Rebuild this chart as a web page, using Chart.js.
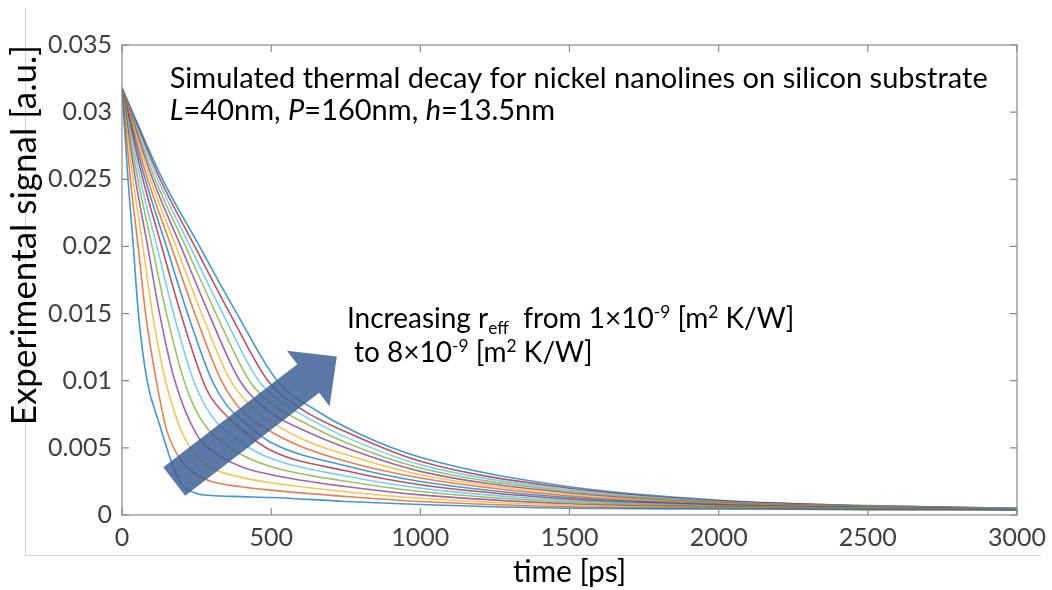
<!DOCTYPE html>
<html>
<head>
<meta charset="utf-8">
<script src="https://cdn.jsdelivr.net/npm/chart.js@4.4.0/dist/chart.umd.min.js"></script>
<style>
  html, body { margin: 0; padding: 0; background: #fff; }
  #wrap { position: relative; width: 1052px; height: 590px; }
  #frame { position: absolute; left: 25px; top: 8px; width: 1015px; height: 547px;
           border-left: 1px solid #d4d4d4; border-bottom: 1px solid #d4d4d4; }
  canvas { position: absolute; left: 0; top: 0; }
</style>
</head>
<body>
<div id="wrap"><div id="frame"></div><canvas id="myChart" width="1052" height="590"></canvas></div>
<script>
// upper part: signal levels [a.u.] and the time [ps] at which each curve passes them
const levels = [0.0318, 0.025, 0.02, 0.015, 0.01];
// one row per curve, r_eff = 1, 1.5, ... 8 x1e-9 m2K/W
const crossTimes = [
  [0, 20, 38, 55, 84],
  [0, 28, 54, 79, 115],
  [0, 37, 70, 102, 146],
  [0, 45, 86, 126, 177],
  [0, 53, 101, 149, 208],
  [0, 61, 117, 173, 240],
  [0, 70, 133, 197, 271],
  [0, 78, 149, 220, 302],
  [0, 86, 165, 244, 333],
  [0, 95, 181, 267, 364],
  [0, 103, 197, 291, 395],
  [0, 111, 213, 315, 427],
  [0, 120, 228, 338, 458],
  [0, 128, 244, 362, 489],
  [0, 136, 260, 385, 520]
];
// lower part: [time ps, signal] read along each curve below 0.01
const tailPoints = [
  [[125, 0.0068], [150, 0.005], [175, 0.0034], [200, 0.0023], [250, 0.0016], [300, 0.00145], [400, 0.00137], [500, 0.0013], [750, 0.00101], [1000, 0.00078], [1500, 0.0005], [2000, 0.00045], [2500, 0.0004], [3000, 0.00038]],
  [[150, 0.0063], [200, 0.004], [250, 0.003], [300, 0.0025], [400, 0.0021], [500, 0.00185], [750, 0.00138], [1000, 0.001], [1500, 0.00061], [2000, 0.0005], [2500, 0.00042], [3000, 0.00039]],
  [[200, 0.0062], [250, 0.0044], [300, 0.0035], [400, 0.0028], [500, 0.0024], [750, 0.00173], [1000, 0.00125], [1500, 0.00073], [2000, 0.00054], [2500, 0.00044], [3000, 0.0004]],
  [[250, 0.006], [300, 0.0048], [400, 0.0036], [500, 0.003], [750, 0.00212], [1000, 0.0015], [1500, 0.00084], [2000, 0.00059], [2500, 0.00046], [3000, 0.00041]],
  [[250, 0.0077], [300, 0.0061], [400, 0.0045], [500, 0.0036], [750, 0.00251], [1000, 0.00175], [1500, 0.00096], [2000, 0.00064], [2500, 0.00049], [3000, 0.00041]],
  [[300, 0.0074], [400, 0.0054], [500, 0.0042], [750, 0.0029], [1000, 0.002], [1500, 0.00107], [2000, 0.00068], [2500, 0.00051], [3000, 0.00042]],
  [[300, 0.0087], [400, 0.0064], [500, 0.0048], [750, 0.00329], [1000, 0.00225], [1500, 0.00118], [2000, 0.00073], [2500, 0.00053], [3000, 0.00043]],
  [[350, 0.0082], [400, 0.0071], [500, 0.0054], [750, 0.00367], [1000, 0.0025], [1500, 0.0013], [2000, 0.00078], [2500, 0.00055], [3000, 0.00044]],
  [[400, 0.0078], [500, 0.0062], [600, 0.0051], [750, 0.004], [1000, 0.00275], [1500, 0.00141], [2000, 0.00082], [2500, 0.00057], [3000, 0.00045]],
  [[450, 0.0078], [600, 0.0057], [750, 0.0045], [1000, 0.003], [1500, 0.00153], [2000, 0.00087], [2500, 0.00059], [3000, 0.00046]],
  [[500, 0.0076], [600, 0.0064], [750, 0.005], [1000, 0.00325], [1500, 0.00164], [2000, 0.00091], [2500, 0.00061], [3000, 0.00047]],
  [[500, 0.0083], [600, 0.007], [750, 0.0054], [1000, 0.0035], [1500, 0.00176], [2000, 0.00096], [2500, 0.00064], [3000, 0.00047]],
  [[550, 0.0082], [650, 0.0069], [750, 0.0058], [1000, 0.00375], [1500, 0.00187], [2000, 0.00101], [2500, 0.00066], [3000, 0.00048]],
  [[600, 0.0079], [750, 0.0062], [1000, 0.004], [1500, 0.00199], [2000, 0.00105], [2500, 0.00068], [3000, 0.00049]],
  [[650, 0.0078], [800, 0.006], [1000, 0.0043], [1500, 0.0021], [2000, 0.0011], [2500, 0.0007], [3000, 0.0005]]
];
const xTickLabels = ['0', '500', '1000', '1500', '2000', '2500', '3000'];
const yTickLabels = ['0', '0.005', '0.01', '0.015', '0.02', '0.025', '0.03', '0.035'];
const lineColors = ['#0072BD', '#D95319', '#EDB120', '#7E2F8E', '#77AC30', '#4DBEEE', '#A2142F'];

const FONT = 'Lato, "Open Sans", sans-serif';

let datasets = crossTimes.map((row, i) => {
  let pts = row.map((t, j) => ({ x: t, y: levels[j] }));
  tailPoints[i].forEach(p => pts.push({ x: p[0], y: p[1] }));
  return {
    data: pts,
    borderColor: lineColors[i % lineColors.length] + 'bb',
    borderWidth: 1.6,
    pointRadius: 0,
    fill: false,
    cubicInterpolationMode: 'monotone'
  };
});

// text lines: [text, kind]  kind: n normal, i italic, sub, sup
const titleLine1 = [['Simulated thermal decay for nickel nanolines on silicon substrate', 'n']];
const titleLine2 = [['L', 'i'], ['=40nm, ', 'n'], ['P', 'i'], ['=160nm, ', 'n'], ['h', 'i'], ['=13.5nm', 'n']];
const noteLine1 = [['Increasing r', 'n'], ['eff', 'sub'], ['  from 1\u00d710', 'n'], ['-9', 'sup'], [' [m', 'n'], ['2', 'sup'], [' K/W]', 'n']];
const noteLine2 = [['to 8\u00d710', 'n'], ['-9', 'sup'], [' [m', 'n'], ['2', 'sup'], [' K/W]', 'n']];

function drawRich(ctx, x, y, parts, size) {
  let cx = x;
  parts.forEach(([txt, kind]) => {
    let fs = size, dy = 0, style = '';
    if (kind === 'sub') { fs = size * 0.62; dy = size * 0.22; }
    if (kind === 'sup') { fs = size * 0.62; dy = -size * 0.36; }
    if (kind === 'i') style = 'italic ';
    ctx.font = style + fs + 'px ' + FONT;
    ctx.fillText(txt, cx, y + dy);
    cx += ctx.measureText(txt).width;
  });
}

const decor = {
  id: 'decor',
  afterDatasetsDraw(chart) {
    const ctx = chart.ctx;
    const xs = chart.scales.x, ys = chart.scales.y;
    const a = chart.chartArea;
    ctx.save();

    // arrow (data coordinates for its ends)
    const p0 = { x: xs.getPixelForValue(175), y: ys.getPixelForValue(0.0025) };
    const p1 = { x: xs.getPixelForValue(720), y: ys.getPixelForValue(0.0118) };
    const dx = p1.x - p0.x, dy = p1.y - p0.y, len = Math.hypot(dx, dy);
    const ux = dx / len, uy = dy / len, nx = -uy, ny = ux;
    const sw = 18, hw = 35, hl = 36;
    const bx = p1.x - ux * hl, by = p1.y - uy * hl;
    ctx.beginPath();
    ctx.moveTo(p0.x + nx * sw, p0.y + ny * sw);
    ctx.lineTo(bx + nx * sw, by + ny * sw);
    ctx.lineTo(bx + nx * hw, by + ny * hw);
    ctx.lineTo(p1.x, p1.y);
    ctx.lineTo(bx - nx * hw, by - ny * hw);
    ctx.lineTo(bx - nx * sw, by - ny * sw);
    ctx.lineTo(p0.x - nx * sw, p0.y - ny * sw);
    ctx.closePath();
    ctx.fillStyle = 'rgba(62, 98, 148, 0.85)';
    ctx.fill();

    // box and inside ticks
    ctx.strokeStyle = '#8a8a8a';
    ctx.lineWidth = 1.2;
    ctx.strokeRect(a.left, a.top, a.right - a.left, a.bottom - a.top);
    ctx.beginPath();
    xs.ticks.forEach(t => {
      const px = xs.getPixelForValue(t.value);
      ctx.moveTo(px, a.bottom); ctx.lineTo(px, a.bottom - 7);
      ctx.moveTo(px, a.top); ctx.lineTo(px, a.top + 7);
    });
    ys.ticks.forEach(t => {
      const py = ys.getPixelForValue(t.value);
      ctx.moveTo(a.left, py); ctx.lineTo(a.left + 7, py);
      ctx.moveTo(a.right, py); ctx.lineTo(a.right - 7, py);
    });
    ctx.stroke();

    // annotations
    ctx.fillStyle = '#000';
    ctx.textBaseline = 'alphabetic';
    ctx.textAlign = 'left';
    drawRich(ctx, xs.getPixelForValue(160), ys.getPixelForValue(0.0318), titleLine1, 29);
    drawRich(ctx, xs.getPixelForValue(160), ys.getPixelForValue(0.0294), titleLine2, 29);
    drawRich(ctx, xs.getPixelForValue(754), ys.getPixelForValue(0.01392), noteLine1, 28);
    drawRich(ctx, xs.getPixelForValue(778), ys.getPixelForValue(0.01139), noteLine2, 28);
    ctx.restore();
  }
};

new Chart(document.getElementById('myChart'), {
  type: 'line',
  data: { datasets: datasets },
  options: {
    responsive: false,
    animation: false,
    layout: { padding: { top: 45, right: 35, left: 0, bottom: 0 } },
    plugins: { legend: { display: false }, tooltip: { enabled: false } },
    scales: {
      x: {
        type: 'linear', min: 0, max: 3000,
        grid: { display: false }, border: { display: false },
        ticks: {
          stepSize: 500, maxRotation: 0, padding: 0, color: '#404040',
          font: { family: FONT, size: 25 },
          callback: (v) => xTickLabels[Math.round(v / 500)]
        },
        title: { display: true, text: 'time [ps]', color: '#000', font: { family: FONT, size: 30 }, padding: { top: 0, bottom: 0 } },
        afterFit: (s) => { s.height = 75; }
      },
      y: {
        min: 0, max: 0.035,
        grid: { display: false }, border: { display: false },
        ticks: {
          stepSize: 0.005, padding: 2, color: '#404040',
          font: { family: FONT, size: 25 },
          callback: (v) => yTickLabels[Math.round(v / 0.005)]
        },
        title: { display: true, text: 'Experimental signal [a.u.]', align: 'end', color: '#000', font: { family: FONT, size: 35 }, padding: { top: 4, bottom: 0 } },
        afterFit: (s) => { s.width = 122; }
      }
    }
  },
  plugins: [decor]
});
</script>
</body>
</html>
